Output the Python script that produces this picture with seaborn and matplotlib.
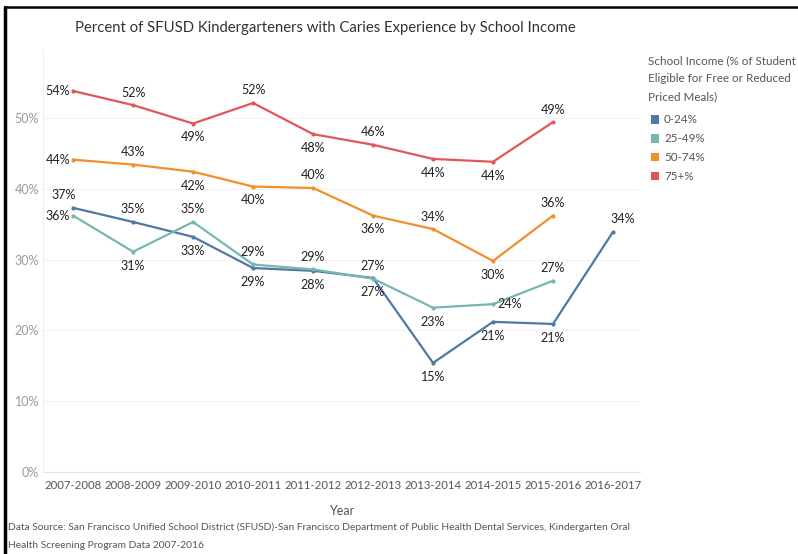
import numpy as np
import pandas as pd
import seaborn as sns
import matplotlib.pyplot as plt
from matplotlib.lines import Line2D
from matplotlib.patches import Patch
from matplotlib.ticker import FuncFormatter

# Data (percent of kindergarteners with caries experience)
years = ["2007-2008", "2008-2009", "2009-2010", "2010-2011", "2011-2012",
         "2012-2013", "2013-2014", "2014-2015", "2015-2016", "2016-2017"]
income_groups = ["0-24%", "25-49%", "50-74%", "75+%"]
low_0_24 = [37.3, 35.3, 33.2, 28.8, 28.4, 27.4, 15.4, 21.2, 20.9, 33.9]
mid_25_49 = [36.2, 31.1, 35.3, 29.3, 28.6, 27.3, 23.2, 23.7, 27.0, np.nan]
mid_50_74 = [44.1, 43.4, 42.4, 40.3, 40.1, 36.2, 34.3, 29.8, 36.2, np.nan]
high_75 = [53.8, 51.8, 49.2, 52.1, 47.7, 46.2, 44.2, 43.8, 49.4, np.nan]

colors = ["#4e79a7", "#76b7b2", "#f28e2b", "#e15759"]

# where each data label goes: a=above, b=below, l=left, r=right, al=above-left
label_pos = {
    "0-24%":  ["al", "a", "b", "b", "b", "b", "b", "b", "b", "ar"],
    "25-49%": ["l", "b", "a", "a", "a", "a", "b", "r", "a"],
    "50-74%": ["l", "a", "b", "b", "a", "b", "a", "b", "a"],
    "75+%":   ["l", "a", "b", "a", "b", "a", "b", "b", "a"],
}

series = [low_0_24, mid_25_49, mid_50_74, high_75]
rows = []
for grp, vals in zip(income_groups, series):
    for i, (yr, v) in enumerate(zip(years, vals)):
        rows.append({"Year": yr, "idx": i, "group": grp, "pct": v})
df = pd.DataFrame(rows).dropna()

sns.set_style("white")
plt.rcParams["font.family"] = ["Lato", "DejaVu Sans"]

fig = plt.figure(figsize=(7.98, 5.54), dpi=100)
ax = fig.add_axes([0.054, 0.148, 0.748, 0.762])

sns.lineplot(data=df, x="idx", y="pct", hue="group", hue_order=income_groups,
             palette=colors, marker="o", markersize=3, markeredgewidth=0,
             linewidth=1.6, legend=False, ax=ax)

# data labels
offs = {"a": (0, 9), "b": (0, -10), "l": (-2, 0), "r": (3, 0),
        "al": (-7, 9), "ar": (7, 9)}
for grp, vals in zip(income_groups, series):
    for i, v in enumerate(vals):
        if np.isnan(v):
            continue
        p = label_pos[grp][i]
        dx, dy = offs[p]
        ha = "right" if p == "l" else ("left" if p == "r" else "center")
        ax.annotate(f"{v:.0f}%", (i, v), xytext=(dx, dy), textcoords="offset points",
                    ha=ha, va="center", fontsize=9, color="#222222")

ax.set_xlim(-0.5, 9.45)
ax.set_ylim(0, 59.6)
ax.set_xticks(range(len(years)))
ax.set_xticklabels(years)
ax.set_yticks([0, 10, 20, 30, 40, 50])
ax.yaxis.set_major_formatter(FuncFormatter(lambda v, p: f"{v:.0f}%"))
ax.tick_params(axis="x", labelsize=8.2, colors="#555555", length=0, pad=6)
ax.tick_params(axis="y", labelsize=9, colors="#999999", length=0, pad=3)
ax.set_xlabel("Year", fontsize=9, color="#555555", labelpad=10)
ax.set_ylabel("")
ax.grid(axis="y", color="#f2f2f2", linewidth=0.8)
for s in ["top", "right"]:
    ax.spines[s].set_visible(False)
ax.spines["left"].set_color("#f0f0f0")
ax.spines["bottom"].set_color("#e6e6e6")

fig.text(0.408, 0.950, "Percent of SFUSD Kindergarteners with Caries Experience by School Income",
         ha="center", va="center", fontsize=10.7, color="#333333")

# legend: title as separate text so the gap to the entries matches
fig.text(0.812, 0.901, "School Income (% of Student\nEligible for Free or Reduced\nPriced Meals)",
         ha="left", va="top", fontsize=8.4, color="#555555", linespacing=1.8)
handles = [Patch(facecolor=c, edgecolor="none") for c in colors]
leg = fig.legend(handles, income_groups,
                 loc="upper left", bbox_to_anchor=(0.808, 0.804), frameon=False,
                 fontsize=8.4, handlelength=0.75, handleheight=0.75,
                 handletextpad=0.4, labelspacing=0.68, borderpad=0,
                 labelcolor="#555555")

fig.text(0.010, 0.049, "Data Source: San Francisco Unified School District (SFUSD)-San Francisco "
         "Department of Public Health Dental Services, Kindergarten Oral",
         ha="left", va="center", fontsize=7.35, color="#555555")
fig.text(0.010, 0.016, "Health Screening Program Data 2007-2016",
         ha="left", va="center", fontsize=7.35, color="#555555")

# screenshot frame
fig.add_artist(Line2D([0.006, 0.006], [0, 0.987], color="black", linewidth=2.5))
fig.add_artist(Line2D([0.006, 1], [0.987, 0.987], color="black", linewidth=1.8))

fig.savefig("out.png", dpi=100)
